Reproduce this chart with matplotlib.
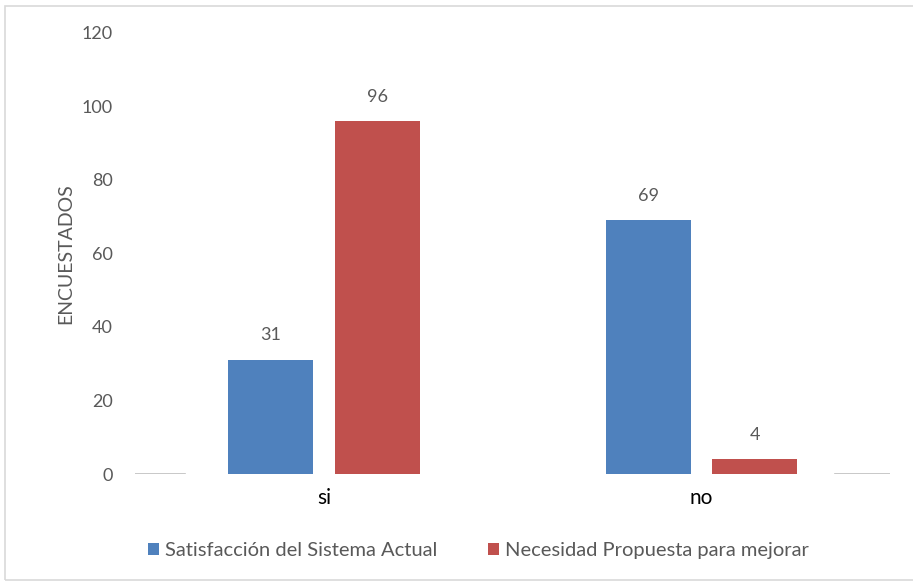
import matplotlib
matplotlib.use("Agg")
import matplotlib.pyplot as plt
from matplotlib.patches import Rectangle
import numpy as np

categories = ["si", "no"]
series_names = ["Satisfacción del Sistema Actual", "Necesidad Propuesta para mejorar"]
satisfaccion = [31, 69]
necesidad = [96, 4]
y_ticks = [0, 20, 40, 60, 80, 100, 120]

BLUE = "#4F81BD"
RED = "#C0504D"
GRAY = "#595959"

plt.rcParams["font.family"] = ["Lato", "DejaVu Sans"]

fig = plt.figure(figsize=(9.13, 5.87), dpi=100)
ax = fig.add_axes([0.1479, 0.1925, 0.8271, 0.7513])

# light frame around the whole chart
fig.patches.append(Rectangle((0.006, 0.012), 1.2, 0.978, transform=fig.transFigure,
                             fill=False, edgecolor="#D9D9D9", linewidth=1.2))

x = np.arange(len(categories))
width = 0.225
offset = 0.141

b1 = ax.bar(x - offset, satisfaccion, width, color=BLUE, label=series_names[0])
b2 = ax.bar(x + offset, necesidad, width, color=RED, label=series_names[1])

for bars, vals in ((b1, satisfaccion), (b2, necesidad)):
    for rect, v in zip(bars, vals):
        ax.annotate(str(v), (rect.get_x() + rect.get_width() / 2, v),
                    xytext=(0, 12), textcoords="offset points",
                    ha="center", va="bottom", fontsize=13, color=GRAY)

ax.set_xlim(-0.5, 1.5)
ax.set_ylim(0, 120)
ax.set_yticks(y_ticks)
ax.set_xticks(x)
ax.set_xticklabels(categories, fontsize=15, color="black")
ax.tick_params(axis="x", length=0, pad=10)
ax.tick_params(axis="y", length=0, pad=16, labelsize=13, labelcolor=GRAY)

for side in ("top", "right", "left", "bottom"):
    ax.spines[side].set_visible(False)

# baseline pieces at both ends of the category axis
ax.axhline(0, xmin=0.0, xmax=0.066, color="#BFBFBF", linewidth=1.2)
ax.axhline(0, xmin=0.927, xmax=1.0, color="#BFBFBF", linewidth=1.2)

ax.set_ylabel("ENCUESTADOS", fontsize=14, color=GRAY, labelpad=5)

fig.legend(handles=[b1, b2], labels=series_names, loc="center",
           bbox_to_anchor=(0.524, 0.062), ncol=2, frameon=False,
           fontsize=14.5, labelcolor=GRAY, handlelength=0.55, handleheight=0.55,
           handletextpad=0.3, columnspacing=2.5)

fig.savefig("out.png", dpi=100, facecolor="white")
